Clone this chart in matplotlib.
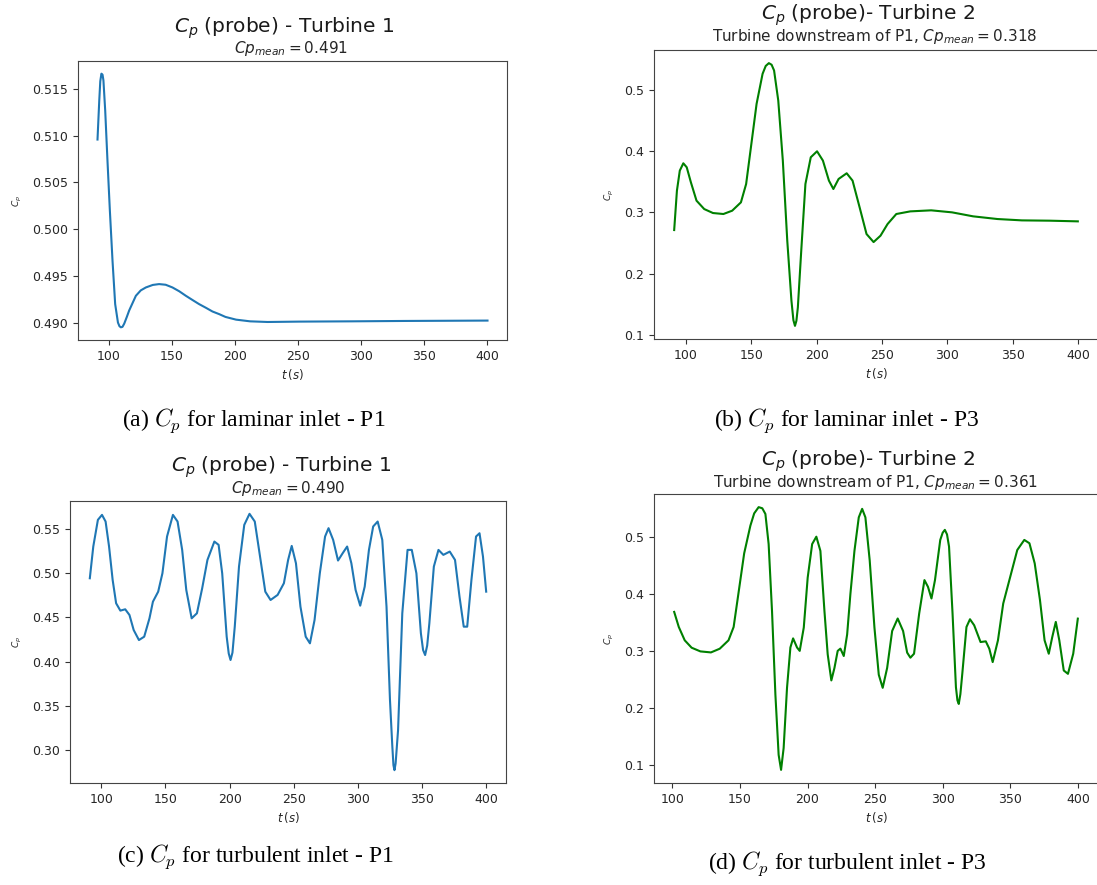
import matplotlib
matplotlib.use('Agg')
import matplotlib.pyplot as plt
import numpy as np

# ---- probe Cp time series (t in s) ----
t_lam_p1 = [91.0, 92.4, 93.2, 94.1, 95.0, 95.7, 97.1, 98.9, 100.8, 102.9, 105.0, 107.2,
            108.4, 109.5, 110.8, 112.2, 114.2, 116.1, 118.8, 121.4, 125.3, 129.3, 134.8,
            139.8, 145.0, 150.4, 155.8, 161.0, 166.5, 171.5, 177.0, 182.1, 187.4, 192.4,
            200.8, 211.9, 225.8, 250.8, 292.6, 334.3, 400.0]
cp_lam_p1 = [0.50957, 0.51375, 0.51580, 0.51661, 0.51650, 0.51589, 0.51268, 0.50732,
             0.50197, 0.49661, 0.49198, 0.49001, 0.48962, 0.48950, 0.48955, 0.48990,
             0.49060, 0.49130, 0.49210, 0.49287, 0.49345, 0.49376, 0.49403, 0.49412,
             0.49405, 0.49376, 0.49335, 0.49287, 0.49240, 0.49198, 0.49158, 0.49119,
             0.49091, 0.49061, 0.49032, 0.49014, 0.49007, 0.49011, 0.49014, 0.49018,
             0.49022]

t_lam_p3 = [90.9, 93.0, 95.2, 97.9, 100.5, 103.7, 108.0, 113.9, 120.6, 128.6, 135.3, 142.0,
            146.0, 150.0, 154.0, 158.6, 161.0, 163.4, 165.5, 167.4, 170.6, 174.1, 177.5,
            180.7, 182.2, 183.4, 184.5, 185.6, 188.2, 191.4, 195.5, 200.3, 204.8, 209.4,
            212.8, 216.8, 223.0, 227.5, 232.9, 238.2, 243.6, 248.9, 254.3, 261.0, 271.7,
            287.7, 303.7, 319.8, 338.5, 357.2, 378.6, 400.0]
cp_lam_p3 = [0.2711, 0.3354, 0.3681, 0.3801, 0.3736, 0.3490, 0.3191, 0.3054, 0.2989, 0.2973,
             0.3027, 0.3163, 0.3463, 0.4117, 0.4771, 0.5262, 0.5390, 0.5436, 0.5410, 0.5316,
             0.4826, 0.3845, 0.2537, 0.1556, 0.1240, 0.1147, 0.1230, 0.1447, 0.2373, 0.3463,
             0.3899, 0.3997, 0.3845, 0.3518, 0.3381, 0.3545, 0.3638, 0.3518, 0.3082, 0.2646,
             0.2515, 0.2619, 0.2809, 0.2973, 0.3016, 0.3033, 0.3000, 0.2935, 0.2891, 0.2869,
             0.2864, 0.2853]

t_tur_p1 = [91.0, 93.7, 97.3, 100.5, 103.3, 106.0, 108.8, 111.5, 114.8, 118.6, 121.9, 125.2,
            129.3, 133.4, 137.5, 140.2, 144.3, 147.6, 151.2, 155.8, 159.4, 163.0, 166.2,
            170.4, 174.5, 178.6, 182.7, 188.1, 191.4, 194.2, 197.7, 199.3, 200.7, 202.2,
            204.0, 207.3, 211.4, 215.5, 219.6, 223.7, 227.8, 231.9, 237.4, 242.3, 245.6,
            248.4, 251.7, 255.2, 259.3, 262.6, 266.2, 270.3, 274.4, 277.1, 280.7, 284.5,
            288.1, 291.6, 294.9, 298.2, 301.8, 305.3, 308.6, 311.9, 315.4, 319.0, 322.3,
            325.0, 326.8, 327.7, 328.5, 329.4, 331.3, 334.6, 338.7, 342.0, 345.6, 349.1,
            350.8, 352.4, 354.0, 355.7, 359.2, 362.8, 366.6, 371.6, 375.7, 379.2, 382.5,
            385.2, 388.5, 392.1, 394.8, 397.5, 400.0]
cp_tur_p1 = [0.4939, 0.5297, 0.5598, 0.5654, 0.5579, 0.5297, 0.4920, 0.4657, 0.4574, 0.4589,
             0.4525, 0.4355, 0.4242, 0.4280, 0.4487, 0.4675, 0.4788, 0.4995, 0.5410, 0.5654,
             0.5579, 0.5259, 0.4807, 0.4487, 0.4544, 0.4826, 0.5146, 0.5353, 0.5316, 0.4995,
             0.4280, 0.4090, 0.4017, 0.4100, 0.4393, 0.5071, 0.5541, 0.5666, 0.5579, 0.5184,
             0.4788, 0.4694, 0.4751, 0.4883, 0.5146, 0.5304, 0.5108, 0.4619, 0.4280, 0.4205,
             0.4468, 0.4995, 0.5410, 0.5504, 0.5372, 0.5139, 0.5221, 0.5297, 0.5108, 0.4807,
             0.4630, 0.4845, 0.5259, 0.5523, 0.5579, 0.5372, 0.4619, 0.3565, 0.3050, 0.2830,
             0.2774, 0.2850, 0.3226, 0.4544, 0.5259, 0.5259, 0.4995, 0.4318, 0.4130, 0.4073,
             0.4180, 0.4431, 0.5071, 0.5259, 0.5203, 0.5240, 0.5146, 0.4732, 0.4393, 0.4393,
             0.4920, 0.5410, 0.5447, 0.5184, 0.4788]

t_tur_p3 = [101.3, 104.7, 109.1, 114.2, 120.7, 128.5, 135.0, 141.5, 145.3, 149.2, 153.1,
            157.7, 160.5, 163.8, 166.5, 168.8, 171.2, 173.7, 176.2, 178.6, 180.4, 182.3,
            184.8, 187.3, 189.3, 192.2, 194.2, 197.2, 200.1, 203.4, 206.5, 209.5, 212.5,
            214.9, 217.6, 219.9, 222.3, 224.3, 226.8, 229.3, 231.7, 234.7, 237.9, 240.4,
            242.8, 246.0, 249.5, 252.7, 255.6, 258.9, 262.6, 266.7, 270.7, 273.7, 276.1,
            278.8, 282.6, 286.5, 289.1, 291.7, 294.3, 298.2, 300.0, 301.6, 303.2, 304.7,
            307.3, 309.8, 310.9, 311.9, 313.1, 314.5, 317.6, 320.2, 323.3, 328.0, 331.9,
            334.5, 337.0, 340.9, 344.8, 350.0, 355.2, 360.4, 364.2, 368.1, 372.0, 375.4,
            378.5, 381.1, 383.7, 386.3, 389.6, 392.7, 396.6, 400.0]
cp_tur_p3 = [0.3686, 0.3421, 0.3186, 0.3056, 0.2991, 0.2973, 0.3038, 0.3186, 0.3421, 0.4069,
             0.4717, 0.5205, 0.5420, 0.5530, 0.5510, 0.5410, 0.4880, 0.3700, 0.2230, 0.1170,
             0.0906, 0.1290, 0.2350, 0.3060, 0.3220, 0.3060, 0.3000, 0.3410, 0.4290, 0.4880,
             0.5010, 0.4760, 0.3700, 0.2940, 0.2480, 0.2700, 0.3000, 0.3040, 0.2910, 0.3290,
             0.4000, 0.4760, 0.5350, 0.5500, 0.5350, 0.4590, 0.3410, 0.2580, 0.2350, 0.2700,
             0.3350, 0.3570, 0.3350, 0.2970, 0.2880, 0.2950, 0.3657, 0.4246, 0.4128, 0.3922,
             0.4246, 0.4953, 0.5080, 0.5130, 0.5050, 0.4835, 0.3657, 0.2361, 0.2130, 0.2066,
             0.2240, 0.2596, 0.3421, 0.3557, 0.3451, 0.3156, 0.3168, 0.3038, 0.2803, 0.3186,
             0.3834, 0.4305, 0.4776, 0.4953, 0.4894, 0.4540, 0.3893, 0.3186, 0.2950, 0.3245,
             0.3510, 0.3186, 0.2655, 0.2596, 0.2950, 0.3568]

titles = [r'$C_p$ (probe) - Turbine 1', r'$C_p$ (probe)- Turbine 2',
          r'$C_p$ (probe) - Turbine 1', r'$C_p$ (probe)- Turbine 2']
subtitles = [r'$Cp_{mean} = 0.491$', r'Turbine downstream of P1, $Cp_{mean} = 0.318$',
             r'$Cp_{mean} = 0.490$', r'Turbine downstream of P1, $Cp_{mean} = 0.361$']
captions = [r'(a) $C_p$ for laminar inlet - P1', r'(b) $C_p$ for laminar inlet - P3',
            r'(c) $C_p$ for turbulent inlet - P1', r'(d) $C_p$ for turbulent inlet - P3']
series = [(t_lam_p1, cp_lam_p1), (t_lam_p3, cp_lam_p3),
          (t_tur_p1, cp_tur_p1), (t_tur_p3, cp_tur_p3)]
colors = ['#1f77b4', 'green', '#1f77b4', 'green']

W, H = 1097, 885
# axes boxes in pixels: left, top, right, bottom
boxes = [(78, 61, 507, 340), (654, 50, 1098, 339),
         (70, 501, 506, 783), (654, 494, 1098, 783)]
title_xy = [(284, 28), (868, 15), (281, 467), (868, 461)]
sub_xy = [(291, 49), (875, 37), (288, 488), (875, 482)]
cap_xy = [(254, 421), (847, 421), (255, 857), (847, 864)]

fig = plt.figure(figsize=(W / 100, H / 100), dpi=100)

for i in range(4):
    l, tp, r, b = boxes[i]
    ax = fig.add_axes([l / W, 1 - b / H, (r - l) / W, (b - tp) / H])
    t, cp = series[i]
    ax.plot(t, cp, color=colors[i], lw=1.5, solid_joinstyle='round')
    ax.set_xticks([100, 150, 200, 250, 300, 350, 400])
    ax.tick_params(labelsize=9, colors='#333333', labelcolor='#262626')
    for s in ax.spines.values():
        s.set_color('#444444')
    ax.set_xlabel(r'$t\,(s)$', fontsize=8.5, color='#262626', labelpad=3)
    ax.set_ylabel(r'$C_p$', fontsize=6.5, color='#262626', labelpad=6)

    fig.text(title_xy[i][0] / W, 1 - title_xy[i][1] / H, titles[i],
             ha='center', va='center', fontsize=14.5, color='#1a1a1a')
    fig.text(sub_xy[i][0] / W, 1 - sub_xy[i][1] / H, subtitles[i],
             ha='center', va='center', fontsize=11, color='#262626')
    fig.text(cap_xy[i][0] / W, 1 - cap_xy[i][1] / H, captions[i],
             ha='center', va='center', fontsize=17, family='Liberation Serif',
             math_fontfamily='cm')

fig.savefig('out.png', dpi=100)
